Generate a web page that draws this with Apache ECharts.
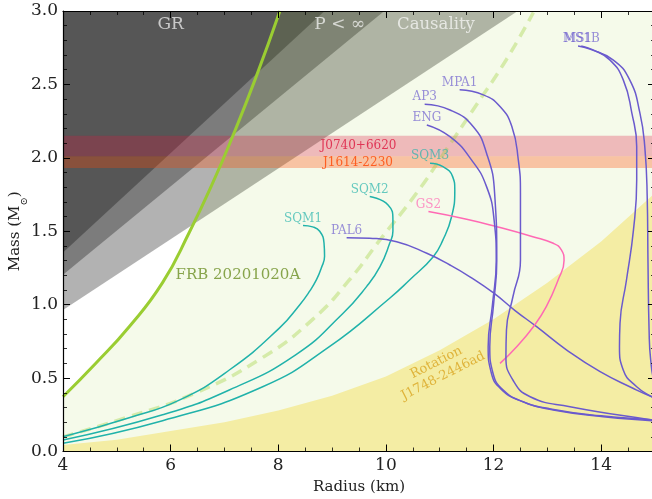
<!DOCTYPE html>
<html><head><meta charset="utf-8">
<script src="https://cdn.jsdelivr.net/npm/echarts@6/dist/echarts.min.js"></script>
<style>html,body{margin:0;padding:0;background:#fff}#c{width:652px;height:499px}</style>
</head><body><div id="c"></div>
<script>
// ---------- data ----------
const xRange = [4, 15];
const yRange = [0, 3];
const xMajor = 2, xMinor = 0.5, yMajor = 0.5;

const grLine = [[4, 1.355], [8.86, 3.0]];
const pInfLine = [[4, 1.204], [9.97, 3.0]];
const causalLine = [[4, 0.964], [12.45, 3.0]];

const frbCurve = [[4.0, 0.373], [4.61, 0.601], [5.23, 0.850], [5.85, 1.150], [6.35, 1.495], [6.78, 1.827], [7.15, 2.144], [7.59, 2.553], [8.03, 3.0]];
const frbDashed = [[4.0, 0.10], [5.23, 0.237], [6.47, 0.40], [7.71, 0.64], [8.64, 0.90], [9.32, 1.168], [9.89, 1.441], [10.57, 1.76], [11.13, 2.06], [11.68, 2.36], [12.24, 2.67], [12.74, 2.99]];
const rotationCurve = [[4, 0.045], [5, 0.08], [6, 0.14], [7, 0.20], [8, 0.28], [9, 0.38], [10, 0.51], [11, 0.69], [12, 0.90], [13, 1.15], [14, 1.43], [15, 1.76]];

const bandJ0740 = [2.01, 2.15];
const bandJ1614 = [1.93, 2.01];

const sqm1 = [[8.46, 1.54], [8.64, 1.53], [8.77, 1.50], [8.85, 1.42], [8.86, 1.33], [8.80, 1.25], [8.71, 1.17], [8.58, 1.09], [8.40, 1.00], [8.02, 0.84], [7.09, 0.555], [6.16, 0.35], [5.23, 0.23], [4.0, 0.10]];
const sqm2 = [[9.70, 1.736], [10.04, 1.679], [10.13, 1.577], [10.13, 1.50], [10.07, 1.418], [9.89, 1.259], [9.64, 1.123], [9.20, 0.94], [8.33, 0.66], [7.09, 0.419], [5.85, 0.25], [4.0, 0.078]];
const sqm3 = [[10.82, 1.963], [11.06, 1.94], [11.24, 1.872], [11.28, 1.781], [11.22, 1.599], [11.06, 1.441], [10.88, 1.327], [10.44, 1.168], [10.07, 1.044], [8.95, 0.714], [7.71, 0.441], [5.85, 0.21], [4.0, 0.056]];
const pal6 = [[9.27, 1.456], [9.70, 1.452], [10.20, 1.429], [10.76, 1.35], [11.19, 1.27], [11.56, 1.19], [12.0, 1.08], [12.4, 0.96], [12.8, 0.85], [13.36, 0.691], [13.98, 0.544], [14.59, 0.431], [14.94, 0.373], [15.1, 0.355]];
const gs2 = [[10.79, 1.634], [11.50, 1.582], [12.06, 1.531], [12.73, 1.463], [13.11, 1.418], [13.26, 1.373], [13.31, 1.30], [13.2, 1.168], [12.98, 0.986], [12.74, 0.85], [12.43, 0.714], [12.12, 0.60]];
const mpa1 = [[11.37, 2.463], [11.81, 2.429], [12.12, 2.349], [12.34, 2.213], [12.46, 1.986], [12.50, 1.759], [12.50, 1.304], [12.36, 1.054], [12.24, 0.828], [12.23, 0.646], [12.36, 0.487], [12.68, 0.373], [13.42, 0.305], [14.94, 0.215], [15.1, 0.21]];
const ap3 = [[10.72, 2.365], [11.19, 2.326], [11.62, 2.213], [11.87, 2.031], [12.02, 1.759], [12.06, 1.30], [12.0, 1.0], [11.93, 0.714], [11.99, 0.533], [12.18, 0.419], [12.55, 0.339], [13.11, 0.283], [14.04, 0.237], [14.94, 0.210], [15.1, 0.205]];
const eng = [[10.76, 2.224], [11.19, 2.144], [11.59, 1.986], [11.87, 1.804], [12.01, 1.577], [12.05, 1.30], [11.98, 1.0], [11.90, 0.714], [11.96, 0.533], [12.14, 0.425], [12.50, 0.345], [13.06, 0.29], [14.0, 0.243], [14.94, 0.217], [15.1, 0.212]];
const ms1 = [[13.57, 2.762], [13.79, 2.74], [14.22, 2.667], [14.53, 2.531], [14.72, 2.304], [14.81, 2.076], [14.855, 1.736], [14.87, 1.282], [14.89, 0.828], [14.92, 0.623], [15.0, 0.45], [15.1, 0.38]];
const ms1b = [[13.63, 2.762], [13.85, 2.735], [14.16, 2.667], [14.41, 2.531], [14.57, 2.304], [14.66, 2.076], [14.66, 1.849], [14.60, 1.509], [14.47, 1.168], [14.35, 0.873], [14.34, 0.714], [14.41, 0.555], [14.66, 0.441], [14.94, 0.373], [15.1, 0.34]];

// ---------- styles ----------
const SERIF = "'DejaVu Serif', 'Liberation Serif', serif";
const TEAL = '#20b2aa', BLUE = '#6a5acd', PINK = '#ff69b4';

const curves = [
  { name: 'SQM1', data: sqm1, color: TEAL, label: 'rgba(32,178,170,0.85)' },
  { name: 'SQM2', data: sqm2, color: TEAL, label: 'rgba(32,178,170,0.85)' },
  { name: 'SQM3', data: sqm3, color: TEAL, label: 'rgba(32,178,170,0.85)' },
  { name: 'PAL6', data: pal6, color: BLUE, label: 'rgba(106,90,205,0.85)' },
  { name: 'GS2', data: gs2, color: PINK, label: 'rgba(255,105,180,0.9)' },
  { name: 'MPA1', data: mpa1, color: BLUE, label: 'rgba(106,90,205,0.85)' },
  { name: 'AP3', data: ap3, color: BLUE, label: 'rgba(106,90,205,0.85)' },
  { name: 'ENG', data: eng, color: BLUE, label: 'rgba(106,90,205,0.85)' },
  { name: 'MS1', data: ms1, color: BLUE, label: 'rgba(106,90,205,0.85)' },
  { name: 'MS1B', data: ms1b, color: BLUE, label: 'rgba(106,90,205,0.85)' }
];

function poly(name, pts, fill, z) {
  return {
    type: 'custom', name, xAxisIndex: 0, yAxisIndex: 0, z, silent: true, clip: true,
    renderItem: (params, api) => ({
      type: 'polygon',
      shape: { points: pts.map(p => api.coord(p)) },
      style: { fill }
    }),
    data: [pts[0]]
  };
}

const yTop = yRange[1], yBot = yRange[0], xL = xRange[0], xR = xRange[1];
const series = [
  poly('causality', [...causalLine, [xL, yTop]], 'rgba(0,0,0,0.3)', 1),
  poly('pinf', [...pInfLine, [xL, yTop]], 'rgba(0,0,0,0.3)', 1),
  poly('gr', [...grLine, [xL, yTop]], 'rgba(0,0,0,0.3)', 1),
  poly('frbFill', [...frbCurve, [xR, yTop], [xR, yBot], [xL, yBot]], 'rgba(154,205,50,0.1)', 2),
  poly('rotation', [...rotationCurve, [xR, yBot], [xL, yBot]], '#f4eda4', 3),
  poly('J0740', [[xL, bandJ0740[0]], [xR, bandJ0740[0]], [xR, bandJ0740[1]], [xL, bandJ0740[1]]], 'rgba(220,20,60,0.28)', 4),
  poly('J1614', [[xL, bandJ1614[0]], [xR, bandJ1614[0]], [xR, bandJ1614[1]], [xL, bandJ1614[1]]], 'rgba(255,69,0,0.3)', 4),
  {
    type: 'line', name: 'frbDashed', data: frbDashed, showSymbol: false, smooth: 0.5, z: 5, silent: true,
    lineStyle: { color: 'rgba(154,205,50,0.35)', width: 3.5, type: [11, 7] }
  },
  {
    type: 'line', name: 'frb', data: frbCurve, showSymbol: false, smooth: 0.5, z: 6, silent: true,
    lineStyle: { color: '#9acd32', width: 3 }
  }
];
curves.forEach(c => series.push({
  type: 'line', name: c.name, data: c.data, showSymbol: false, smooth: 0.5, z: 6, silent: true,
  lineStyle: { color: c.color, width: 1.5 }
}));
series.push({
  type: 'scatter', name: 'curveLabels', symbolSize: 0, z: 8, silent: true,
  data: curves.map(c => ({
    value: c.data[0],
    label: { show: true, formatter: c.name, position: 'top', distance: 1, color: c.label, fontFamily: SERIF, fontSize: 12 }
  }))
});
const notes = [
  { pos: [6.0, 2.905], text: 'GR', color: 'rgba(255,255,255,0.85)', size: 17 },
  { pos: [9.14, 2.905], text: 'P < ∞', color: 'rgba(255,255,255,0.85)', size: 17 },
  { pos: [10.93, 2.905], text: 'Causality', color: 'rgba(255,255,255,0.85)', size: 16.5 },
  { pos: [7.25, 1.203], text: 'FRB 20201020A', color: '#6b8e23', size: 15 },
  { pos: [9.49, 2.083], text: 'J0740+6620', color: '#dc143c', size: 12 },
  { pos: [9.48, 1.967], text: 'J1614-2230', color: '#ff4500', size: 12 },
  { pos: [11.0, 0.56], text: 'Rotation\nJ1748-2446ad', color: '#daa520', size: 13, rotate: 27 }
];
series.push({
  type: 'scatter', name: 'notes', symbolSize: 0, z: 8, silent: true,
  data: notes.map(n => ({
    value: n.pos,
    label: { show: true, formatter: n.text, position: 'inside', color: n.color, fontFamily: SERIF, fontSize: n.size, rotate: n.rotate || 0, align: 'center', verticalAlign: 'middle', lineHeight: n.size + 2 }
  }))
});

const axLineStyle = { color: '#000', width: 1.2 };
function xAx(pos, interval, main) {
  return {
    type: 'value', position: pos, min: xRange[0], max: xRange[1], interval, z: 10,
    axisLine: { show: main, lineStyle: axLineStyle },
    axisTick: { show: true, inside: true, length: main ? 7 : 4, lineStyle: { color: '#000', width: main ? 1 : 0.8 } },
    axisLabel: (main && pos === 'bottom') ? {
      show: true, fontFamily: SERIF, fontSize: 17, color: '#222', margin: 6, showMaxLabel: false
    } : { show: false },
    splitLine: { show: false },
    name: (main && pos === 'bottom') ? 'Radius (km)' : '',
    nameLocation: 'middle', nameGap: 28, nameMoveOverlap: false,
    nameTextStyle: { fontFamily: SERIF, fontSize: 15, color: '#222' }
  };
}
function yAx(pos) {
  const isLeft = pos === 'left';
  return {
    type: 'value', position: pos, min: yRange[0], max: yRange[1], interval: yMajor, z: 10,
    axisLine: { show: true, lineStyle: axLineStyle },
    axisTick: { show: true, inside: true, length: 7, lineStyle: { color: '#000', width: 1 } },
    minorTick: { show: true, splitNumber: 5, length: 4, lineStyle: { color: '#000', width: 0.8 } },
    axisLabel: isLeft ? { show: true, fontFamily: SERIF, fontSize: 17, color: '#222', margin: 5, formatter: v => v.toFixed(1) } : { show: false },
    splitLine: { show: false }, minorSplitLine: { show: false },
    name: isLeft ? '{a|Mass (M}{b|⊙}{a|)}' : '',
    nameLocation: 'middle', nameGap: 38, nameRotate: 90, nameMoveOverlap: false,
    nameTextStyle: {
      rich: {
        a: { fontFamily: SERIF, fontSize: 15, color: '#222', lineHeight: 20, verticalAlign: 'middle' },
        b: { fontFamily: SERIF, fontSize: 10, color: '#222', lineHeight: 20, verticalAlign: 'bottom', padding: [0, 0, -4, 0] }
      }
    }
  };
}

const chart = echarts.init(document.getElementById('c'), null, { renderer: 'canvas' });
chart.setOption({
  animation: false,
  backgroundColor: '#fff',
  grid: { left: 63, right: -3, top: 11, bottom: 47.5, containLabel: false, outerBoundsMode: 'none' },
  xAxis: [xAx('bottom', xMajor, true), xAx('bottom', xMinor, false), xAx('top', xMajor, true), xAx('top', xMinor, false)],
  yAxis: [yAx('left'), yAx('right')],
  series
});
</script>
</body></html>
